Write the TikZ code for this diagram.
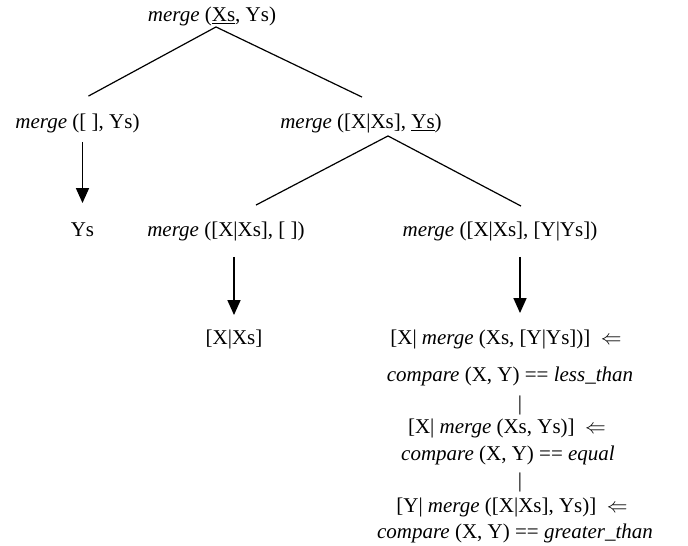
\documentclass[tikz,border=0pt]{standalone}
\usepackage{fontspec}
\setmainfont{Liberation Serif}
\usetikzlibrary{arrows.meta,calc}

\begin{document}
\begin{tikzpicture}[x=1pt,y=-1pt,
  term/.style={inner sep=0pt,text height=15pt,text depth=4.5pt,font=\fontsize{21}{25}\selectfont},
  branch/.style={draw=black,line width=1.2pt},
  reduce/.style={draw=black,line width=1.6pt,-{Triangle[width=13pt,length=15pt]}}]
\useasboundingbox (0,0) rectangle (688,546);

\node[term] (0) at (212,16) {\textit{merge} (\underline{Xs}, Ys)};
\node[term] (1) at (77.5,123) {\textit{merge} ([\ ], Ys)};
\node[term] (2) at (361,123) {\textit{merge} ([X|Xs], \underline{Ys})};
\node[term] (3) at (82.5,231) {Ys};
\node[term] (4) at (226,231) {\textit{merge} ([X|Xs], [\ ])};
\node[term] (5) at (500,231) {\textit{merge} ([X|Xs], [Y|Ys])};
\node[term] (6) at (234,339) {[X|Xs]};
\node[term] (7) at (506,339) {[X| \textit{merge} (Xs, [Y|Ys])] \ $\Leftarrow$};
\node[term] (8) at (510,376) {\textit{compare} (X, Y) == \textit{less\_than}};
\node[term] (9) at (520,405) {|};
\node[term] (10) at (507,428) {[X| \textit{merge} (Xs, Ys)] \ $\Leftarrow$};
\node[term] (11) at (508,455) {\textit{compare} (X, Y) == \textit{equal}};
\node[term] (12) at (520,482) {|};
\node[term] (13) at (512,507) {[Y| \textit{merge} ([X|Xs], Ys)] \ $\Leftarrow$};
\node[term] (14) at (515,533) {\textit{compare} (X, Y) == \textit{greater\_than}};

\path [branch] ($(0.south)+(4,1)$) edge ($(1.north)+(11,-17)$);
\path [branch] ($(0.south)+(4,1)$) edge ($(2.north)+(1,-16)$);
\path [branch] ($(2.south)+(27,3)$) edge ($(4.north)+(30,-16)$);
\path [branch] ($(2.south)+(27,3)$) edge ($(5.north)+(21,-15)$);
\draw [reduce,shorten <=9pt,shorten >=18pt] (1.south -| 3.north) -- (3.north);
\draw [reduce,shorten <=16pt,shorten >=14pt] (4.south -| 6.north) -- (6.north);
\draw [reduce,shorten <=16pt,shorten >=16pt] (5.south -| 9.north) -- (7.north -| 9.north);
\end{tikzpicture}
\end{document}
